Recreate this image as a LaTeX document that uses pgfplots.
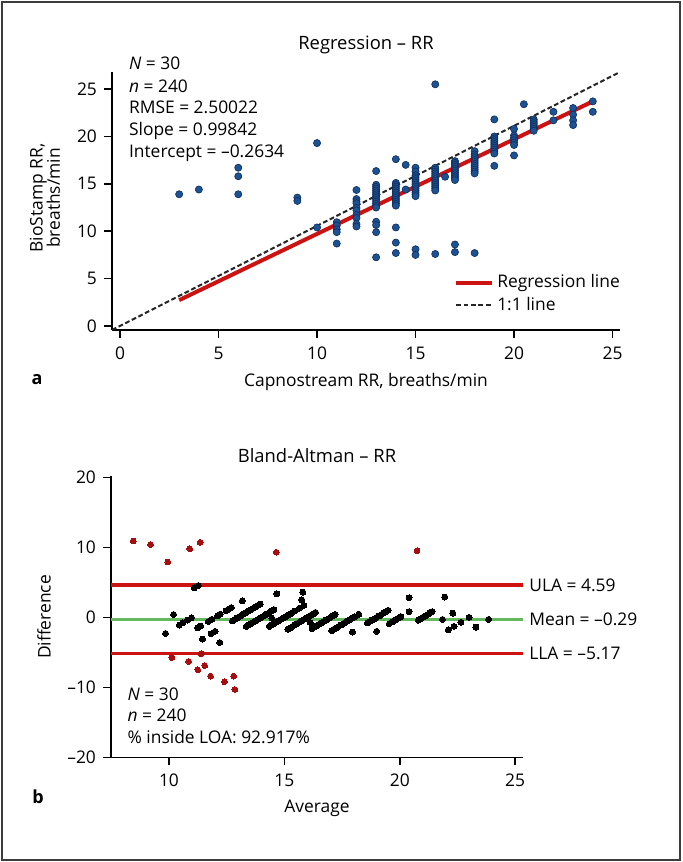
\documentclass[border=0pt]{standalone}
\usepackage{pgfplots}
\pgfplotsset{compat=1.18}
\usepackage{fontspec}
\setmainfont{Open Sans}
\definecolor{ptblue}{RGB}{28,82,145}
\definecolor{ptedge}{RGB}{15,45,95}
\definecolor{regred}{RGB}{205,18,18}
\definecolor{darkred}{RGB}{165,15,15}
\definecolor{meangreen}{RGB}{100,185,95}
\definecolor{framegray}{RGB}{60,60,60}
\newcommand{\fs}{\fontsize{8.7}{10}\selectfont}
\newcommand{\ts}{\fontsize{9.2}{11}\selectfont}
\newcommand{\ylfont}{\fontsize{8.7}{8.6}\selectfont\lineskiplimit=-20pt\relax}
\begin{document}
\begin{tikzpicture}[font=\fs]
\path[use as bounding box] (0pt,0pt) rectangle (341.5pt,-431pt);
\draw[framegray, line width=1pt] (1pt,-1pt) rectangle (340pt,-430pt);
% ---------------- top panel ----------------
\begin{axis}[
  at={(56pt,-165pt)}, anchor=south west,
  scale only axis, width=254pt, height=129pt,
  xmin=-0.41, xmax=25.38, ymin=-0.42, ymax=26.8,
  axis lines*=left,
  axis line style={line width=0.75pt, black},
  tick align=outside, major tick length=4pt,
  tick style={line width=0.75pt, black},
  xtick={0,5,10,15,20,25}, ytick={0,5,10,15,20,25},
  /pgf/number format/assume math mode=true,
  tick label style={font=\fs},
  xticklabel style={yshift=-1pt},
  clip=false,
  legend style={draw=none, fill=none, at={(0.673,0.228)}, anchor=north west,
    font=\fs, row sep=0pt, inner sep=0pt,
    nodes={inner sep=1.5pt}},
  legend cell align=left,
  legend image code/.code={\draw[#1] (0pt,0pt) -- (18pt,0pt);},
]
\addplot[only marks, mark=*, mark size=1.8pt, mark options={fill=ptblue, draw=ptedge, line width=0.3pt}, forget plot] coordinates {
(3,13.9)(4,14.4)(6,16.7)(6,15.8)(6,13.9)(9,13.55)(9,13.2)(10,19.3)(10,10.4)
(11,10.95)(11,10.6)(11,10.2)(11,9.9)(11,8.7)
(12,14.35)(12,13.4)(12,13.15)(12,12.95)(12,12.45)(12,12.2)(12,11.7)(12,11.4)(12,10.75)(12,10.5)
(13,16.35)(13,14.9)(13,14.7)(13,14.5)(13,14.3)(13,14.1)(13,13.9)(13,13.7)(13,13.5)(13,13.3)(13,13.1)(13,12.9)(13,12.7)(13,12.5)(13,11.0)(13,10.65)(13,9.9)(13,7.25)
(14,17.6)(14,15.1)(14,14.9)(14,14.7)(14,14.5)(14,14.3)(14,14.1)(14,13.9)(14,13.7)(14,13.5)(14,13.3)(14,13.1)(14,12.9)(14,12.7)(14,10.4)(14,8.8)(14,7.7)
(14.5,17.0)(14.5,14.4)
(15,16.7)(15,16.3)(15,15.9)(15,15.7)(15,15.5)(15,15.3)(15,15.1)(15,14.9)(15,14.7)(15,14.5)(15,14.3)(15,14.1)(15,13.9)(15,13.7)(15,8.1)(15,7.5)
(16,25.5)(16,16.7)(16,16.5)(16,16.3)(16,16.1)(16,15.9)(16,15.7)(16,15.5)(16,15.3)(16,15.1)(16,14.9)(16,14.7)(16,14.5)(16,14.3)(16,7.6)
(16.5,15.75)
(17,17.4)(17,17.2)(17,17.0)(17,16.8)(17,16.6)(17,16.4)(17,16.2)(17,16.0)(17,15.8)(17,15.6)(17,15.4)(17,8.6)(17,7.8)
(18,18.45)(18,18.1)(18,17.9)(18,17.7)(18,17.5)(18,17.3)(18,17.1)(18,16.9)(18,16.7)(18,16.5)(18,16.3)(18,16.1)(18,7.7)
(19,21.8)(19,20.0)(19,19.8)(19,19.6)(19,19.4)(19,19.2)(19,19.0)(19,18.8)(19,18.6)(19,18.4)(19,18.2)(19,16.9)
(20,20.8)(20,20.1)(20,19.85)(20,19.6)(20,19.35)(20,19.1)(20,18.0)
(20.5,23.4)
(21,21.8)(21,21.6)(21,21.4)(21,21.2)(21,21.0)(21,20.8)(21,20.6)
(22,22.6)(22,21.7)
(23,23.0)(23,22.3)(23,21.7)(23,21.2)
(24,23.7)(24,22.6)
};
\addplot[regred, line width=2pt, no marks] coordinates {(3,2.73)(24,23.70)};
\addlegendentry{Regression line}
\addplot[black!85, line width=1pt, dash pattern=on 2.4pt off 1.3pt, no marks] coordinates {(-0.41,-0.42)(25.38,26.8)};
\addlegendentry{1:1 line}
\end{axis}
\node[font=\ts] at (183pt,-22.5pt) {Regression – RR};
\node[anchor=base west] at (61pt,-34.75pt) {\textit{N} = 30};
\node[anchor=base west] at (61pt,-46pt) {\textit{n} = 240};
\node[anchor=base west] at (61pt,-56.75pt) {RMSE = 2.50022};
\node[anchor=base west] at (61pt,-67.75pt) {Slope = 0.99842};
\node[anchor=base west] at (61pt,-78.75pt) {Intercept = –0.2634};
\node[rotate=90, align=center, font=\ylfont] at (22.5pt,-99pt) {BioStamp RR,\\breaths/min};
\node at (183pt,-191pt) {Capnostream RR, breaths/min};
\node[font=\fontsize{9}{10}\selectfont\bfseries] at (18.5pt,-190pt) {a};
% ---------------- bottom panel ----------------
\begin{axis}[
  at={(55.5pt,-378.65pt)}, anchor=south west,
  scale only axis, width=206pt, height=140.7pt,
  xmin=7.487, xmax=25.34, ymin=-20, ymax=20.2,
  axis lines*=left,
  axis line style={line width=0.75pt, black},
  tick align=outside, major tick length=4pt,
  tick style={line width=0.75pt, black},
  xtick={10,15,20,25}, ytick={-20,-10,0,10,20},
  yticklabels={–20,–10,0,10,20},
  /pgf/number format/assume math mode=true,
  tick label style={font=\fs},
  xticklabel style={yshift=-1pt},
  clip=false,
]
\addplot[regred, line width=1.75pt, no marks] coordinates {(7.487,4.59)(25.34,4.59)};
\addplot[regred, line width=1.75pt, no marks] coordinates {(7.487,-5.17)(25.34,-5.17)};
\addplot[meangreen, line width=1.5pt, no marks] coordinates {(7.487,-0.29)(25.34,-0.29)};
\addplot[only marks, mark=*, mark size=1.5pt, mark options={fill=black, draw=black, line width=0pt}] coordinates {
(11.275,4.55)(11.1,4.2)(10.2,0.4)(10.975,-0.05)(10.8,-0.4)(10.6,-0.8)(10.45,-1.1)(9.85,-2.3)
(13.175,2.35)(12.7,1.4)(12.575,1.15)(12.475,0.95)(12.225,0.45)(12.1,0.2)(11.85,-0.3)(11.7,-0.6)(11.375,-1.25)(11.25,-1.5)
(14.675,3.35)(13.95,1.9)(13.85,1.7)(13.75,1.5)(13.65,1.3)(13.55,1.1)(13.45,0.9)(13.35,0.7)(13.25,0.5)(13.15,0.3)(13.05,0.1)(12.95,-0.1)(12.85,-0.3)(12.75,-0.5)(12.0,-2.0)(11.825,-2.35)(11.45,-3.1)
(15.8,3.6)(14.55,1.1)(14.45,0.9)(14.35,0.7)(14.25,0.5)(14.15,0.3)(14.05,0.1)(13.95,-0.1)(13.85,-0.3)(13.75,-0.5)(13.65,-0.7)(13.55,-0.9)(13.45,-1.1)(13.35,-1.3)(12.2,-3.6)
(15.75,2.5)(14.45,-0.1)
(15.85,1.7)(15.65,1.3)(15.45,0.9)(15.35,0.7)(15.25,0.5)(15.15,0.3)(15.05,0.1)(14.95,-0.1)(14.85,-0.3)(14.75,-0.5)(14.65,-0.7)(14.55,-0.9)(14.45,-1.1)(14.35,-1.3)
(16.35,0.7)(16.25,0.5)(16.15,0.3)(16.05,0.1)(15.95,-0.1)(15.85,-0.3)(15.75,-0.5)(15.65,-0.7)(15.55,-0.9)(15.45,-1.1)(15.35,-1.3)(15.25,-1.5)(15.15,-1.7)
(16.125,-0.75)
(17.2,0.4)(17.1,0.2)(17.0,0.0)(16.9,-0.2)(16.8,-0.4)(16.7,-0.6)(16.6,-0.8)(16.5,-1.0)(16.4,-1.2)(16.3,-1.4)(16.2,-1.6)
(18.225,0.45)(18.05,0.1)(17.95,-0.1)(17.85,-0.3)(17.75,-0.5)(17.65,-0.7)(17.55,-0.9)(17.45,-1.1)(17.35,-1.3)(17.25,-1.5)(17.15,-1.7)(17.05,-1.9)
(20.4,2.8)(19.5,1.0)(19.4,0.8)(19.3,0.6)(19.2,0.4)(19.1,0.2)(19.0,0.0)(18.9,-0.2)(18.8,-0.4)(18.7,-0.6)(18.6,-0.8)(17.95,-2.1)
(20.4,0.8)(20.05,0.1)(19.925,-0.15)(19.8,-0.4)(19.675,-0.65)(19.55,-0.9)(19.0,-2.0)
(21.95,2.9)
(21.4,0.8)(21.3,0.6)(21.2,0.4)(21.1,0.2)(21.0,0.0)(20.9,-0.2)(20.8,-0.4)
(22.3,0.6)(21.85,-0.3)
(23.0,0.0)(22.65,-0.7)(22.35,-1.3)(22.1,-1.8)
(23.85,-0.3)(23.3,-1.4)
};
\addplot[only marks, mark=*, mark size=1.45pt, mark options={fill=darkred, draw=darkred, line width=0pt}] coordinates {
(8.45,10.9)(9.2,10.4)(11.35,10.7)(10.9,9.8)(9.95,7.9)(14.65,9.3)(20.75,9.5)
(10.125,-5.75)(11.4,-5.2)(10.85,-6.3)(11.55,-6.9)(11.25,-7.5)(11.8,-8.4)(12.8,-8.4)(12.4,-9.2)(12.85,-10.3)
};
\node[anchor=west, inner sep=0pt, xshift=3pt] at (axis cs:25.34,4.59) {ULA = 4.59};
\node[anchor=west, inner sep=0pt, xshift=3pt] at (axis cs:25.34,-0.29) {Mean = –0.29};
\node[anchor=west, inner sep=0pt, xshift=3pt] at (axis cs:25.34,-5.17) {LLA = –5.17};
\end{axis}
\node[font=\ts] at (158.5pt,-228pt) {Bland-Altman – RR};
\node[anchor=base west] at (60.3pt,-350.25pt) {\textit{N} = 30};
\node[anchor=base west] at (60.3pt,-360.75pt) {\textit{n} = 240};
\node[anchor=base west] at (60.3pt,-371.9pt) {\% inside LOA: 92.917\%};
\node[rotate=90] at (22pt,-308.5pt) {Difference};
\node at (158.5pt,-404pt) {Average};
\node[font=\fontsize{9}{10}\selectfont\bfseries] at (19pt,-398.5pt) {b};
\end{tikzpicture}
\end{document}
